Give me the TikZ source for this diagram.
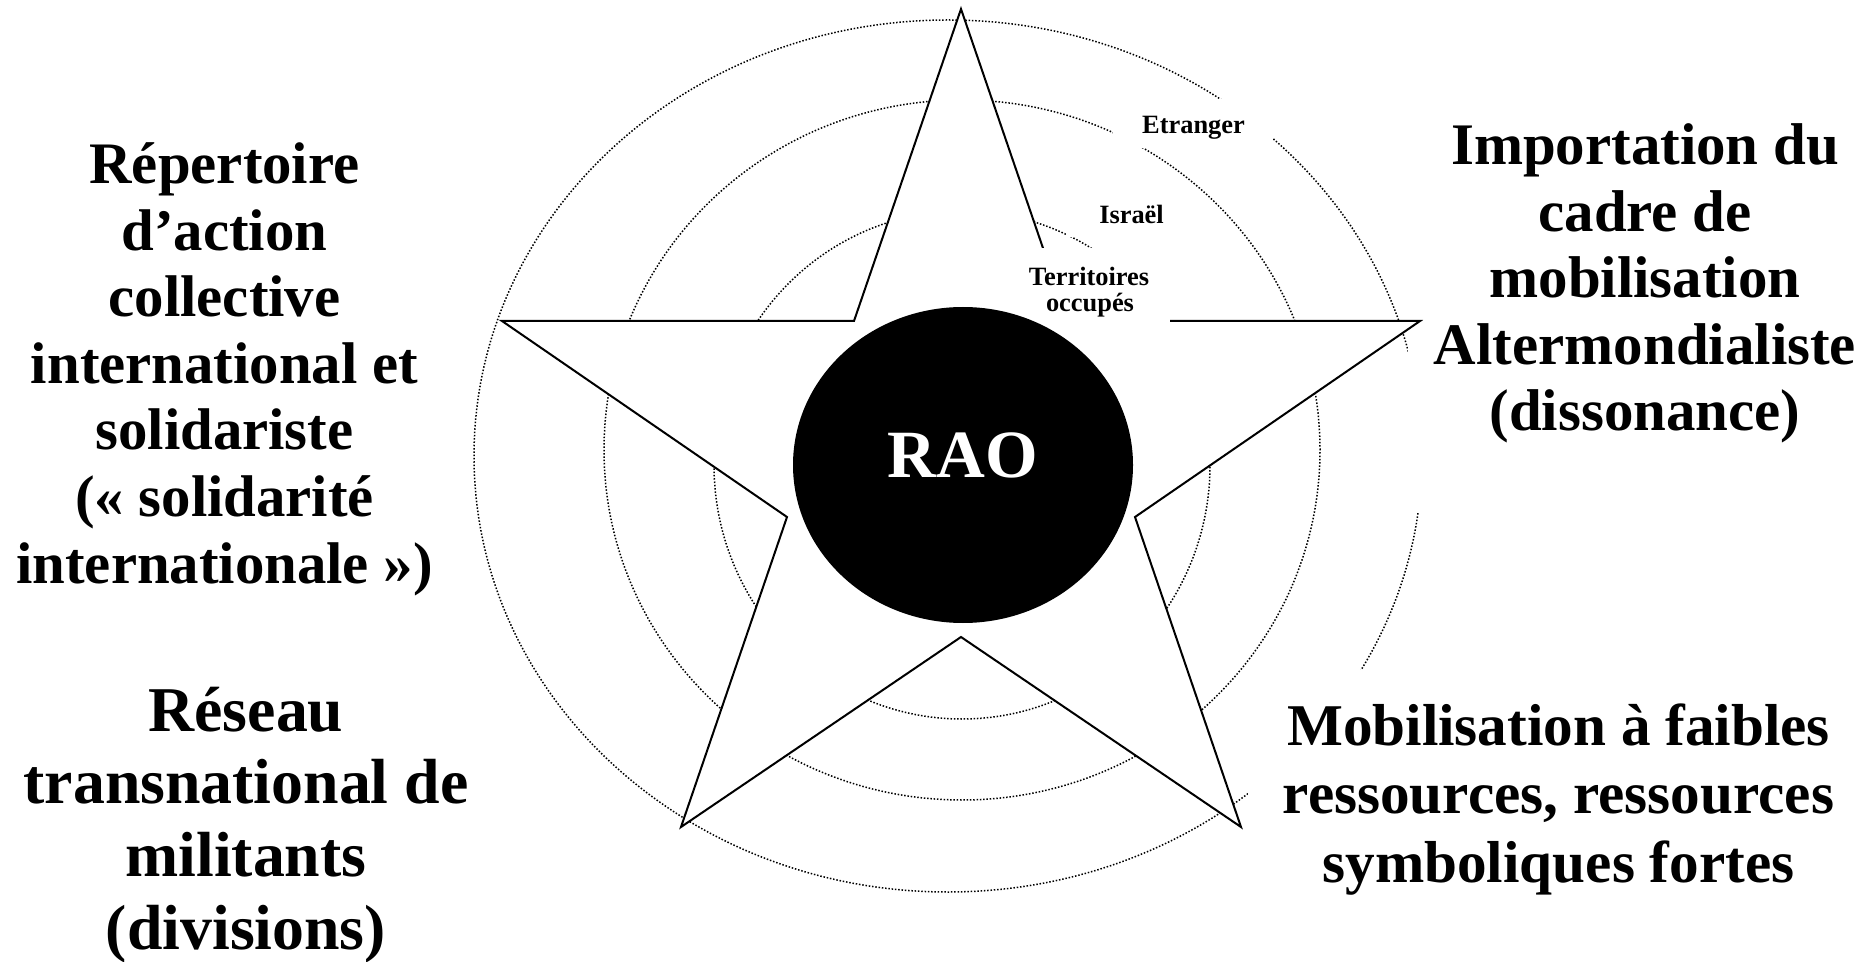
\documentclass[tikz,border=0pt]{standalone}
\usepackage{fontspec}
\setmainfont{Liberation Serif}
\begin{document}
\begin{tikzpicture}[x=0.5pt,y=-0.5pt,
  ring/.style={line width=0.75pt, dash pattern=on 0.75pt off 0.9pt},
  starline/.style={line width=1pt, line join=miter},
  mask/.style={fill=white},
  bigA/.style={font=\bfseries\fontsize{29.4}{33}\selectfont, inner sep=0pt, anchor=base},
  bigB/.style={font=\bfseries\fontsize{29.45}{33}\selectfont, inner sep=0pt, anchor=base},
  bigC/.style={font=\bfseries\fontsize{31.9}{36}\selectfont, inner sep=0pt, anchor=base},
  bigD/.style={font=\bfseries\fontsize{29.6}{34}\selectfont, inner sep=0pt, anchor=base},
  small/.style={font=\bfseries\fontsize{13.2}{13.5}\selectfont, inner sep=0pt, anchor=base},
  raotext/.style={font=\bfseries\fontsize{33.8}{36}\selectfont, text=white, inner sep=0pt, anchor=base}]
\useasboundingbox (0,0) rectangle (1874,962);
\fill[white] (0,0) rectangle (1874,962);

% concentric dotted rings
\draw[ring] (948,456) ellipse [x radius=237pt, y radius=218pt];
\draw[ring] (962,450) ellipse [x radius=179pt, y radius=175pt];
\draw[ring] (962,465) ellipse [x radius=124pt, y radius=127pt];

% white text boxes on the right
\fill[mask] (1408,105) rectangle (1874,513);
\fill[mask] (1248,670) rectangle (1874,962);

% star
\coordinate (T) at (961,9);
\coordinate (URi) at (1068,321);
\coordinate (Rt) at (1420,321);
\coordinate (Ri) at (1135,517);
\coordinate (LRt) at (1241,827);
\coordinate (Bi) at (961,637);
\coordinate (LLt) at (681,827);
\coordinate (Li) at (787,517);
\coordinate (Lt) at (502,321);
\coordinate (ULi) at (854,321);
\draw[starline, fill=white] (T) -- (URi) -- (Rt) -- (Ri) -- (LRt) -- (Bi) -- (LLt) -- (Li) -- (Lt) -- (ULi) -- cycle;

% ring labels
\fill[mask] (1113,99) rectangle (1273,148);
\node[small] (etr) at (1193.5,133.5) {Etranger};
\fill[mask] (1066,195) rectangle (1198,237);
\node[small] (isr) at (1131.5,224) {Israël};
\fill[mask] (1015,248) rectangle (1170,326);
\node[small] (ter1) at (1089,285.5) {Territoires};
\node[small] (ter2) at (1090,312) {occupés};

% centre
\fill[black] (963,465) ellipse [x radius=85pt, y radius=79pt];
\node[raotext] (rao) at (963,478) {RAO};

% left upper text
\node[bigA] (a1) at (224.5,184) {Répertoire};
\node[bigA] (a2) at (224.5,250.5) {d’action};
\node[bigA] (a3) at (224.5,317) {collective};
\node[bigA] (a4) at (224.5,383.5) {international et};
\node[bigA] (a5) at (224.5,450) {solidariste};
\node[bigA] (a6) at (224.5,516.5) {(« solidarité};
\node[bigA] (a7) at (224.5,583) {internationale »)};

% right upper text
\node[bigB] (b1) at (1645,165) {Importation du};
\node[bigB] (b2) at (1645,231.5) {cadre de};
\node[bigB] (b3) at (1645,298) {mobilisation};
\node[bigB] (b4) at (1645,364.5) {Altermondialiste};
\node[bigB] (b5) at (1645,431) {(dissonance)};

% left lower text
\node[bigC] (c1) at (246,731) {Réseau};
\node[bigC] (c2) at (246,803.7) {transnational de};
\node[bigC] (c3) at (246,876.4) {militants};
\node[bigC] (c4) at (246,949) {(divisions)};

% right lower text
\node[bigD] (d1) at (1558.5,745.3) {Mobilisation à faibles};
\node[bigD] (d2) at (1558.5,813.6) {ressources, ressources};
\node[bigD] (d3) at (1558.5,882) {symboliques fortes};
\end{tikzpicture}
\end{document}
